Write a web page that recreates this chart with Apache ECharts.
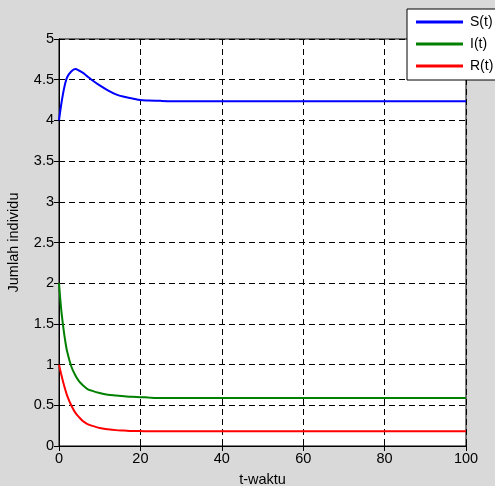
<!DOCTYPE html>
<html><head><meta charset="utf-8">
<script src="https://cdn.jsdelivr.net/npm/echarts@6/dist/echarts.min.js"></script>
<style>html,body{margin:0;padding:0;background:#d9d9d9;}#c{width:495px;height:486px;}</style>
</head><body><div id="c"></div>
<script>
const tVals = [0, 0.5, 1, 1.5, 2, 3, 4, 5, 6, 7, 8, 10, 12, 14, 16, 18, 20, 22, 25, 30, 40, 60, 80, 100];
const sVals = [4.0, 4.18, 4.33, 4.45, 4.53, 4.60, 4.63, 4.61, 4.58, 4.54, 4.50, 4.43, 4.37, 4.32, 4.29, 4.27, 4.25, 4.245, 4.24, 4.236, 4.236, 4.236, 4.236, 4.236];
const iVals = [2.0, 1.70, 1.48, 1.30, 1.16, 0.98, 0.87, 0.79, 0.74, 0.70, 0.68, 0.65, 0.63, 0.62, 0.61, 0.605, 0.60, 0.595, 0.59, 0.59, 0.59, 0.59, 0.59, 0.59];
const rVals = [1.0, 0.89, 0.79, 0.70, 0.62, 0.50, 0.41, 0.35, 0.30, 0.27, 0.25, 0.22, 0.205, 0.195, 0.19, 0.185, 0.183, 0.18, 0.18, 0.18, 0.18, 0.18, 0.18, 0.18];
const seriesNames = ['S(t)', 'I(t)', 'R(t)'];
const xLabel = 't-waktu';
const yLabel = 'Jumlah individu';

const pair = v => tVals.map((t, i) => [t, v[i]]);
const font = 'Liberation Sans, Arial, sans-serif';
const fs = 14.5;
const gridLine = {show: true, lineStyle: {color: '#000', width: 1, type: [6, 4]}};
const chart = echarts.init(document.getElementById('c'), null, {renderer: 'canvas'});
chart.setOption({
  backgroundColor: '#d9d9d9',
  animation: false,
  textStyle: {fontFamily: font},
  grid: {left: 59, top: 39, right: 29, bottom: 40, show: true, backgroundColor: '#fff', borderColor: '#000', borderWidth: 1, containLabel: false, outerBoundsMode: 'none'},
  legend: {
    orient: 'vertical', left: 407, top: 9,
    backgroundColor: '#fff', borderColor: '#000', borderWidth: 1,
    padding: [5, 30, 6, 9], itemGap: 6,
    itemWidth: 47, itemHeight: 3, icon: 'rect',
    textStyle: {fontFamily: font, fontSize: 14, color: '#000', lineHeight: 16, padding: [0, 0, 0, 2]},
    data: seriesNames
  },
  xAxis: [{
    type: 'value', min: 0, max: 100, interval: 20,
    name: xLabel, nameLocation: 'middle', nameGap: 26, nameMoveOverlap: false,
    nameTextStyle: {fontSize: fs, color: '#000', fontFamily: font},
    axisLine: {show: true, onZero: false, lineStyle: {color: '#000', width: 1}},
    axisTick: {show: true, inside: true, length: 5, lineStyle: {color: '#000'}},
    axisLabel: {fontSize: fs, color: '#000', margin: 5, fontFamily: font},
    splitLine: gridLine
  }, {
    type: 'value', position: 'top', min: 0, max: 100, interval: 20,
    axisLine: {show: true, lineStyle: {color: '#000'}},
    axisTick: {show: true, inside: true, length: 5, lineStyle: {color: '#000'}},
    axisLabel: {show: false}, splitLine: {show: false}
  }],
  yAxis: [{
    type: 'value', min: 0, max: 5, interval: 0.5,
    name: yLabel, nameLocation: 'middle', nameGap: 38, nameRotate: 90, nameMoveOverlap: false,
    nameTextStyle: {fontSize: fs, color: '#000', fontFamily: font},
    axisLine: {show: true, lineStyle: {color: '#000', width: 1}},
    axisTick: {show: true, inside: true, length: 5, lineStyle: {color: '#000'}},
    axisLabel: {fontSize: fs, color: '#000', margin: 5, fontFamily: font},
    splitLine: gridLine
  }, {
    type: 'value', position: 'right', min: 0, max: 5, interval: 0.5,
    axisLine: {show: true, lineStyle: {color: '#000'}},
    axisTick: {show: true, inside: true, length: 5, lineStyle: {color: '#000'}},
    axisLabel: {show: false}, splitLine: {show: false}
  }],
  series: [
    {name: seriesNames[0], type: 'line', data: pair(sVals), showSymbol: false, smooth: 0.3, lineStyle: {color: '#0000ff', width: 2}, itemStyle: {color: '#0000ff'}},
    {name: seriesNames[1], type: 'line', data: pair(iVals), showSymbol: false, smooth: 0.3, lineStyle: {color: '#008000', width: 2}, itemStyle: {color: '#008000'}},
    {name: seriesNames[2], type: 'line', data: pair(rVals), showSymbol: false, smooth: 0.3, lineStyle: {color: '#ff0000', width: 2}, itemStyle: {color: '#ff0000'}}
  ]
});
</script></body></html>
